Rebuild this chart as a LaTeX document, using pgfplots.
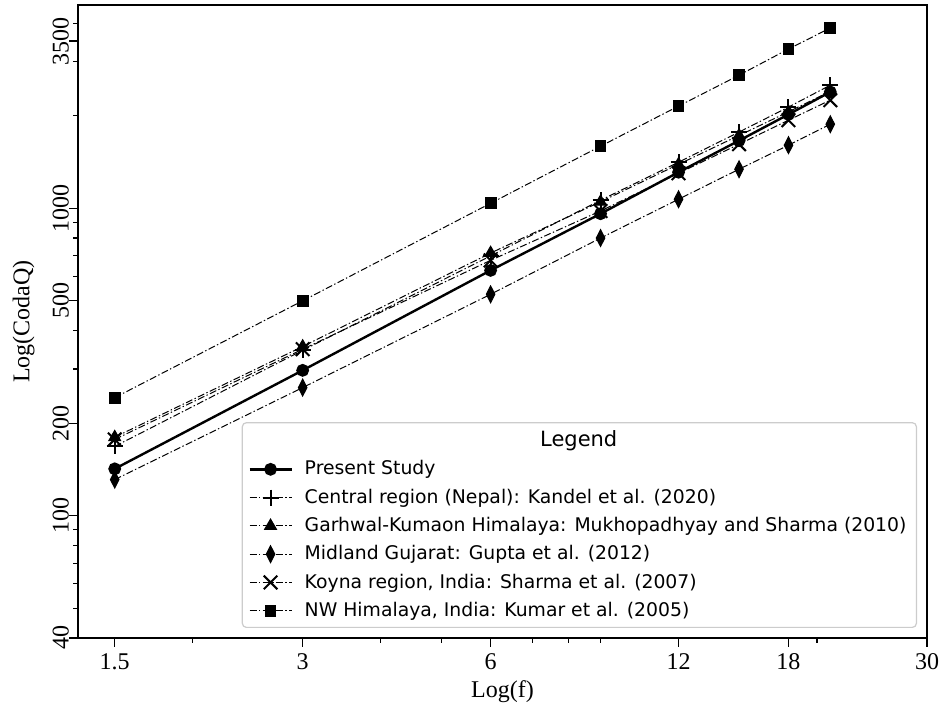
\documentclass[border=0pt]{standalone}
\usepackage{fontspec}
\setmainfont{Liberation Serif}
\newfontfamily\legfont{DejaVu Sans}
\usepackage{pgfplots}
\pgfplotsset{compat=1.18}

\pgfplotsset{
  dashdot/.style={black, line width=0.5pt, dash pattern=on 3.5pt off 1.2pt on 0.7pt off 1.2pt},
}

\begin{document}
\begin{tikzpicture}
\begin{axis}[
  name=ax,
  scale only axis,
  width=424.5pt, height=316.5pt,
  xmode=log, ymode=log,
  xmin=1.31, xmax=30, ymin=40, ymax=4585,
  xtick={1.5,3,6,12,18,30},
  xticklabels={1.5,3,6,12,18,30},
  minor xtick={2,4,5,7,8,9,20},
  ytick={40,100,200,500,1000,3500},
  yticklabels={40,100,200,500,1000,3500},
  minor ytick={50,60,70,80,90,300,400,600,700,800,900,2000,3000,4000},
  tick pos=left,
  tick align=outside,
  major tick length=4.5pt,
  minor tick length=2.5pt,
  tick style={black, line width=0.6pt},
  axis line style={line width=1pt},
  /pgf/number format/assume math mode=true,
  ticklabel style={font=\fontsize{12}{14}\selectfont},
  yticklabel style={rotate=90, anchor=south},
  yticklabel shift=-3.5pt,
  label style={font=\fontsize{12}{14}\selectfont},
  xlabel={Log(f)},
  ylabel={Log(CodaQ)},
  xlabel style={at={(axis description cs:0.5,-0.085)}, anchor=center},
  ylabel style={at={(axis description cs:-0.064,0.5)}, anchor=center},
  legend cell align=left,
  legend image code/.code={
    \draw[mark repeat=2, mark phase=2, #1] plot coordinates {(0pt,0pt) (10.5pt,0pt) (21pt,0pt)};
  },
  legend style={at={(1,0)}, anchor=south east, xshift=-5pt, yshift=5pt,
    draw=black!20, rounded corners=2pt, line width=0.6pt, column sep=4pt,
    font=\legfont\fontsize{9.4}{11}\selectfont, row sep=1.5pt},
]
\addlegendimage{empty legend}
\addlegendentry{\hspace*{137pt}\makebox[0pt]{\fontsize{10.5}{12}\selectfont Legend}}

\addplot[black, line width=1.2pt, mark=*, mark size=2.6pt] coordinates {
  (1.5,142) (3,297) (6,628) (9,960) (12,1310) (15,1660) (18,2020) (21,2390)
};
\addlegendentry{Present Study}

\addplot[dashdot, mark=+, mark size=4pt, mark options={solid, line width=1pt}] coordinates {
  (1.5,168) (3,345) (6,700) (9,1062) (12,1412) (15,1770) (18,2134) (21,2515)
};
\addlegendentry{Central region (Nepal): Kandel et al. (2020)}

\addplot[dashdot, mark=triangle*, mark size=3.4pt, mark options={solid}] coordinates {
  (1.5,180) (3,355) (6,715) (9,1050) (12,1390) (15,1725) (18,2060) (21,2400)
};
\addlegendentry{Garhwal-Kumaon Himalaya: Mukhopadhyay and Sharma (2010)}

\addplot[dashdot, mark=diamond*, mark size=4.2pt, mark options={solid, xscale=0.68}] coordinates {
  (1.5,131) (3,261) (6,525) (9,800) (12,1070) (15,1340) (18,1604) (21,1877)
};
\addlegendentry{Midland Gujarat: Gupta et al. (2012)}

\addplot[dashdot, mark=x, mark size=4.8pt, mark options={solid, line width=1pt}] coordinates {
  (1.5,177) (3,348) (6,677) (9,980) (12,1300) (15,1616) (18,1935) (21,2248)
};
\addlegendentry{Koyna region, India: Sharma et al. (2007)}

\addplot[dashdot, mark=square*, mark size=2.7pt, mark options={solid}] coordinates {
  (1.5,242) (3,500) (6,1038) (9,1592) (12,2150) (15,2710) (18,3296) (21,3860)
};
\addlegendentry{NW Himalaya, India: Kumar et al. (2005)}
\end{axis}
\pgfresetboundingbox
\path[use as bounding box] ([shift={(-39pt,-35pt)}]ax.south west) rectangle ([shift={(6.5pt,2.5pt)}]ax.north east);
\end{tikzpicture}
\end{document}
